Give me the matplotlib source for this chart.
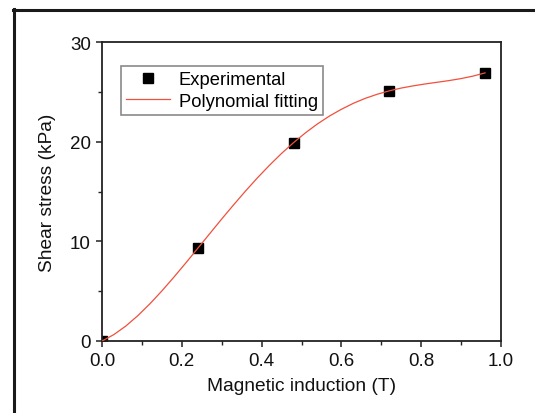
import numpy as np
import matplotlib
matplotlib.use("Agg")
import matplotlib.pyplot as plt
from matplotlib.lines import Line2D
from matplotlib.ticker import MultipleLocator, FormatStrFormatter

plt.rcParams["font.family"] = ["Liberation Sans", "DejaVu Sans"]

# experimental points
field_T = [0.0, 0.24, 0.48, 0.72, 0.96]
stress_kPa = [0.0, 9.3, 19.9, 25.1, 26.9]

# fitted curve, every 0.03 T
fit_x = np.linspace(0.0, 0.96, 33)
fit_y = [0.0, 0.65, 1.51, 2.55, 3.73, 5.02, 6.40, 7.83, 9.30, 10.77, 12.24,
         13.67, 15.06, 16.39, 17.64, 18.82, 19.90, 20.89, 21.78, 22.57, 23.25,
         23.85, 24.35, 24.76, 25.10, 25.38, 25.60, 25.79, 25.96, 26.13, 26.33,
         26.58, 26.90]

fig = plt.figure(figsize=(5.35, 4.14), dpi=100)
ax = fig.add_axes([102 / 535, 1 - 342 / 414, 399 / 535, 299 / 414])

ax.plot(field_T, stress_kPa, linestyle="none", marker="s", ms=7.2,
        color="black", label="Experimental", zorder=2)
ax.plot(fit_x, fit_y, color="#f0503c", lw=0.9, label="Polynomial fitting", zorder=3)

ax.set_xlim(0, 1.0)
ax.set_ylim(0, 30)
ax.xaxis.set_major_locator(MultipleLocator(0.2))
ax.xaxis.set_minor_locator(MultipleLocator(0.1))
ax.yaxis.set_major_locator(MultipleLocator(10))
ax.yaxis.set_minor_locator(MultipleLocator(5))
ax.xaxis.set_major_formatter(FormatStrFormatter("%.1f"))

for s in ax.spines.values():
    s.set_linewidth(1.3)
    s.set_color("#222222")
ax.tick_params(which="major", direction="out", length=4.5, width=1.1,
               labelsize=13.5, pad=3.5, color="#222222", labelcolor="#111111")
ax.tick_params(which="minor", direction="out", length=2.7, width=1.0,
               color="#222222")

ax.set_xlabel("Magnetic induction (T)", fontsize=13.8, labelpad=6, color="#111111")
ax.set_ylabel("Shear stress (kPa)", fontsize=13.8, labelpad=10, color="#111111")

leg = ax.legend(loc="upper left", bbox_to_anchor=(0.047, 0.921), borderaxespad=0,
                fontsize=13.2, fancybox=False, framealpha=1, edgecolor="#8a8a8a",
                handlelength=2.4, handletextpad=0.45, borderpad=0.3,
                labelspacing=0.25)
leg.get_frame().set_linewidth(1.2)

# outer frame of the figure panel
fig.add_artist(Line2D([13.5 / 535, 13.5 / 535], [0, 1 - 10 / 414],
                      color="#1a1a1a", lw=2.2, transform=fig.transFigure))
fig.add_artist(Line2D([12.5 / 535, 1], [1 - 10.5 / 414, 1 - 10.5 / 414],
                      color="#1a1a1a", lw=2.2, transform=fig.transFigure))

fig.savefig("out.png", dpi=100)
